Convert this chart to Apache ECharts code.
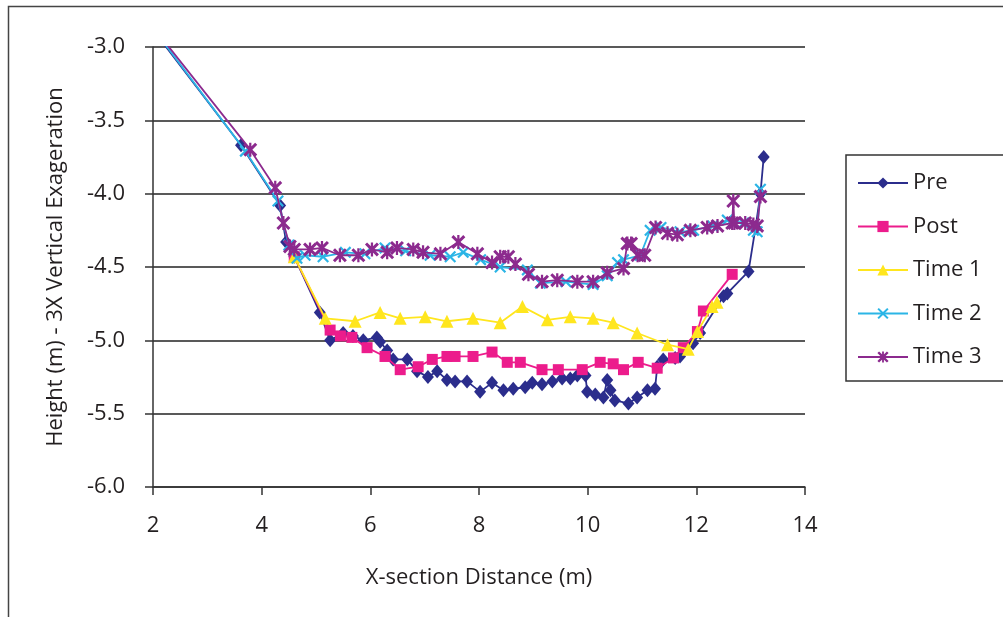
<!DOCTYPE html>
<html>
<head>
<meta charset="utf-8">
<script src="https://cdn.jsdelivr.net/npm/echarts@6/dist/echarts.min.js"></script>
<style>
html,body{margin:0;padding:0;background:#fff;}
#chart{width:1003px;height:617px;}
</style>
</head>
<body>
<div id="chart"></div>
<script>
// ---- data ----
var seriesNames = ['Pre', 'Post', 'Time 1', 'Time 2', 'Time 3'];
var xTicks = [2, 4, 6, 8, 10, 12, 14];
var yTicks = [-6.0, -5.5, -5.0, -4.5, -4.0, -3.5, -3.0];

var preX = [2.18, 3.62, 4.34, 4.45, 4.60, 5.07, 5.26, 5.50, 5.68, 5.87, 6.12, 6.18, 6.31, 6.42, 6.68, 6.86, 7.06, 7.23, 7.41, 7.56, 7.78, 8.02, 8.24, 8.45, 8.63, 8.85, 8.98, 9.16, 9.35, 9.53, 9.68, 9.81, 9.96, 9.99, 10.14, 10.29, 10.36, 10.42, 10.50, 10.75, 10.91, 11.10, 11.24, 11.28, 11.39, 11.61, 11.70, 11.94, 12.07, 12.50, 12.57, 12.96, 13.09, 13.18, 13.24];
var preY = [-2.97, -3.67, -4.08, -4.33, -4.43, -4.81, -5.00, -4.95, -4.97, -5.00, -4.98, -5.01, -5.07, -5.13, -5.13, -5.21, -5.25, -5.21, -5.27, -5.28, -5.28, -5.35, -5.29, -5.34, -5.33, -5.32, -5.29, -5.30, -5.28, -5.26, -5.26, -5.24, -5.24, -5.35, -5.37, -5.39, -5.27, -5.34, -5.41, -5.43, -5.39, -5.34, -5.33, -5.18, -5.13, -5.12, -5.11, -5.02, -4.95, -4.70, -4.68, -4.53, -4.23, -4.00, -3.75];

var postX = [4.60, 5.26, 5.45, 5.66, 5.94, 6.27, 6.55, 6.88, 7.14, 7.41, 7.56, 7.89, 8.24, 8.52, 8.76, 9.16, 9.46, 9.90, 10.23, 10.47, 10.66, 10.93, 11.28, 11.58, 11.76, 12.02, 12.13, 12.66];
var postY = [-4.43, -4.93, -4.97, -4.98, -5.05, -5.11, -5.20, -5.18, -5.13, -5.11, -5.11, -5.11, -5.08, -5.15, -5.15, -5.20, -5.20, -5.20, -5.15, -5.16, -5.20, -5.15, -5.19, -5.12, -5.05, -4.94, -4.80, -4.55];

var t1X = [4.60, 5.17, 5.72, 6.18, 6.55, 7.01, 7.41, 7.89, 8.39, 8.80, 9.26, 9.68, 10.10, 10.47, 10.91, 11.47, 11.85, 12.02, 12.29, 12.38];
var t1Y = [-4.43, -4.85, -4.87, -4.81, -4.85, -4.84, -4.87, -4.85, -4.88, -4.77, -4.86, -4.84, -4.85, -4.88, -4.95, -5.03, -5.06, -4.94, -4.77, -4.74];

var t2X = [2.22, 3.70, 4.30, 4.50, 4.65, 4.80, 5.13, 5.54, 5.90, 6.27, 6.65, 7.10, 7.47, 7.71, 8.03, 8.39, 8.89, 9.13, 9.60, 10.10, 10.36, 10.55, 10.66, 10.97, 11.15, 11.35, 11.70, 11.95, 12.30, 12.57, 12.87, 13.05, 13.12, 13.18];
var t2Y = [-2.98, -3.71, -4.05, -4.35, -4.44, -4.42, -4.43, -4.40, -4.41, -4.37, -4.39, -4.42, -4.43, -4.40, -4.45, -4.50, -4.52, -4.61, -4.60, -4.62, -4.56, -4.47, -4.45, -4.42, -4.25, -4.23, -4.26, -4.25, -4.22, -4.18, -4.20, -4.25, -4.26, -3.97];

var t3X = [2.25, 3.79, 4.25, 4.40, 4.52, 4.60, 4.89, 5.11, 5.44, 5.78, 6.03, 6.31, 6.49, 6.79, 6.97, 7.29, 7.62, 7.97, 8.24, 8.39, 8.54, 8.67, 8.91, 9.16, 9.44, 9.81, 10.10, 10.36, 10.66, 10.73, 10.80, 10.92, 11.05, 11.25, 11.47, 11.65, 11.89, 12.20, 12.39, 12.66, 12.68, 12.70, 12.90, 13.05, 13.12, 13.18];
var t3Y = [-2.98, -3.70, -3.96, -4.20, -4.36, -4.38, -4.38, -4.37, -4.42, -4.42, -4.38, -4.40, -4.37, -4.38, -4.40, -4.41, -4.33, -4.41, -4.47, -4.43, -4.43, -4.48, -4.55, -4.60, -4.59, -4.60, -4.60, -4.54, -4.51, -4.34, -4.34, -4.42, -4.42, -4.23, -4.27, -4.28, -4.25, -4.23, -4.22, -4.20, -4.05, -4.20, -4.20, -4.21, -4.22, -4.02];

function pairs(xs, ys) { return xs.map(function (x, i) { return [x, ys[i]]; }); }

var crossPath = 'path://M0,1.3 L1.3,0 L5,3.7 L8.7,0 L10,1.3 L6.3,5 L10,8.7 L8.7,10 L5,6.3 L1.3,10 L0,8.7 L3.7,5 Z';
var starPath = 'path://M0,1.5 L1.5,0 L5,3.5 L8.5,0 L10,1.5 L6.5,5 L10,8.5 L8.5,10 L5,6.5 L1.5,10 L0,8.5 L3.5,5 Z M4.2,0 L5.8,0 L5.8,10 L4.2,10 Z';

var colors = ['#2B2D8C', '#EC1C8C', '#FFE61E', '#2BB5E6', '#8C2A8E'];
var symbols = ['diamond', 'rect', 'triangle', crossPath, starPath];
var sizes = [[12, 14], 11, 13, 12, 14];
var dataSets = [pairs(preX, preY), pairs(postX, postY), pairs(t1X, t1Y), pairs(t2X, t2Y), pairs(t3X, t3Y)];

var FONT = 'Open Sans';
var TXT = '#231F20';

var chart = echarts.init(document.getElementById('chart'), null, { renderer: 'canvas' });
chart.setOption({
  animation: false,
  backgroundColor: '#fff',
  graphic: [{
    type: 'rect', silent: true, z: -1,
    shape: { x: 8.5, y: 6.5, width: 1100, height: 700 },
    style: { fill: 'none', stroke: '#444', lineWidth: 1.5 }
  }],
  grid: { left: 153, top: 47, width: 652, height: 440, containLabel: false },
  legend: {
    orient: 'vertical',
    left: 846, top: 155,
    padding: [16, 60, 12, 11],
    itemGap: 19.5,
    itemWidth: 50, itemHeight: 14,
    borderColor: '#333', borderWidth: 1.5,
    textStyle: { fontFamily: FONT, fontSize: 22, color: TXT, lineHeight: 24 },
    data: seriesNames
  },
  xAxis: {
    type: 'value', min: 2, max: 14, interval: 2,
    name: 'X-section Distance (m)', nameLocation: 'middle', nameGap: 80,
    nameTextStyle: { fontFamily: FONT, fontSize: 22, color: TXT },
    axisLine: { lineStyle: { color: '#333', width: 1.5 } },
    axisTick: { show: true, inside: false, length: 8, lineStyle: { color: '#333', width: 1.5 } },
    axisLabel: { fontFamily: FONT, fontSize: 22, color: TXT, margin: 28,
      formatter: function (v) { return xTicks.indexOf(v) >= 0 ? String(v) : ''; } },
    splitLine: { show: false }
  },
  yAxis: {
    type: 'value', min: -6, max: -3, interval: 0.5,
    name: 'Height (m) - 3X Vertical Exageration', nameLocation: 'middle', nameGap: 86,
    nameTextStyle: { fontFamily: FONT, fontSize: 22, color: TXT },
    axisLine: { show: true, lineStyle: { color: '#333', width: 1.5 } },
    axisTick: { show: true, inside: false, length: 8, lineStyle: { color: '#333', width: 1.5 } },
    axisLabel: { fontFamily: FONT, fontSize: 22, color: TXT, margin: 28,
      formatter: function (v) { return yTicks.indexOf(v) >= 0 ? v.toFixed(1) : ''; } },
    splitLine: { show: true, lineStyle: { color: '#222', width: 1.5 } }
  },
  series: seriesNames.map(function (name, i) {
    return {
      name: name, type: 'line', data: dataSets[i],
      symbol: symbols[i], symbolSize: sizes[i], showSymbol: true, showAllSymbol: true,
      color: colors[i],
      lineStyle: { color: colors[i], width: 1.8 },
      itemStyle: { color: colors[i] },
      z: 2 + i
    };
  })
});
</script>
</body>
</html>
